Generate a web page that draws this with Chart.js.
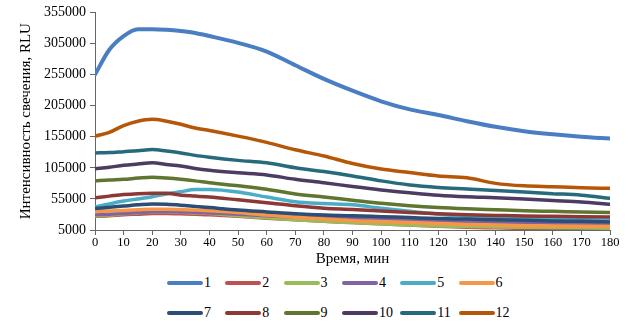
<!DOCTYPE html>
<html>
<head>
<meta charset="utf-8">
<script src="https://cdn.jsdelivr.net/npm/chart.js@4"></script>
<style>
  html, body { margin: 0; padding: 0; background: #fff; }
  #wrap { position: relative; width: 626px; height: 324px; }
  #chartBox { position: absolute; left: 0; top: 0; width: 626px; height: 268px; }
  #legend { position: absolute; left: 0; top: 268px; width: 626px; height: 56px; }
  .item { position: absolute; display: flex; align-items: center; height: 20px;
          font: 14px "Liberation Serif", "Times New Roman", serif; color: #000; }
  .swatch { width: 36px; height: 4px; border-radius: 2px; margin-right: 1px; }
</style>
</head>
<body>
<div id="wrap">
  <div id="chartBox"><canvas id="lumChart"></canvas></div>
  <div id="legend"></div>
</div>
<script>
// Время, мин
const TIMES = [0, 5, 10, 15, 20, 25, 30, 35, 40, 50, 60, 70, 80, 90, 100, 110, 120, 130, 140, 150, 160, 170, 180];

// Интенсивность свечения, RLU
const S1  = [255000, 295000, 317000, 328000, 328000, 327000, 325000, 322000, 317000, 306000, 292000, 270000, 248000, 229000, 212000, 199000, 190000, 180000, 171000, 164000, 159000, 155000, 152000];
const S2  = [27000, 28000, 29500, 30500, 31500, 31500, 31000, 30500, 29500, 27000, 24000, 21500, 19000, 17000, 15000, 13000, 11000, 9500, 8500, 7500, 7000, 6500, 6000];
const S3  = [27500, 29000, 31000, 32500, 34000, 34000, 33500, 32500, 31500, 28000, 24500, 21500, 19000, 17000, 15000, 13000, 11500, 10500, 10000, 9500, 9000, 8500, 8000];
const S4  = [29500, 30500, 32000, 33000, 34500, 34500, 34000, 33500, 32500, 30500, 28000, 26000, 25000, 24000, 22000, 20500, 19000, 18000, 17000, 16000, 15000, 14000, 13000];
const S5  = [42000, 47000, 51500, 55000, 58500, 63000, 66500, 70000, 70000, 66000, 58000, 50500, 47500, 45500, 40000, 35000, 30500, 27000, 25000, 23500, 22500, 21500, 20500];
const S6  = [34500, 35500, 36500, 37500, 38500, 38500, 38000, 37000, 36000, 33000, 29000, 25500, 22500, 20000, 18500, 17000, 15500, 14000, 13000, 12000, 11500, 11000, 10500];
const S7  = [39500, 41500, 43500, 45500, 47000, 46500, 45000, 43000, 41000, 37000, 34000, 31000, 29000, 28000, 26500, 25000, 23500, 22500, 21500, 20500, 19500, 19000, 18000];
const S8  = [57000, 59500, 62000, 63500, 64000, 64000, 61000, 59500, 58000, 53500, 49000, 44000, 40000, 38000, 35500, 33000, 31000, 29500, 28500, 27500, 27000, 26500, 26000];
const S9  = [84000, 85500, 86500, 88500, 90000, 88500, 86500, 84000, 81000, 76000, 70500, 63000, 58000, 53000, 48000, 44000, 41000, 39000, 37500, 36000, 35000, 34000, 33000];
const S10 = [103500, 106000, 109000, 111000, 113000, 110500, 108000, 104000, 101000, 97000, 93500, 86500, 81000, 75000, 69500, 65000, 61000, 58500, 57000, 55000, 52500, 50000, 46500];
const S11 = [129000, 129500, 131000, 132500, 134500, 132000, 129000, 125000, 122000, 117000, 113000, 105000, 99000, 92000, 84000, 77500, 73500, 71000, 68500, 66000, 63500, 61000, 56000];
const S12 = [156000, 162000, 173000, 180000, 183000, 180000, 175000, 169000, 165000, 156000, 146000, 134000, 124000, 112000, 103000, 97500, 92000, 89000, 80000, 76000, 74500, 73000, 72000];

const SERIES = [S1, S2, S3, S4, S5, S6, S7, S8, S9, S10, S11, S12];
const NAMES = ['1', '2', '3', '4', '5', '6', '7', '8', '9', '10', '11', '12'];
const COLORS = ['#4A7EC2', '#C0504D', '#9BBB59', '#8064A2', '#4BACC6', '#F79646',
                '#2C4D75', '#8C3836', '#5F7530', '#4D3B62', '#276A7C', '#B65708'];

const SERIF = '"Liberation Serif", "Times New Roman", serif';

const datasets = SERIES.map((vals, i) => ({
    label: NAMES[i],
    data: vals.map((v, k) => ({ x: TIMES[k], y: v })),
    borderColor: COLORS[i],
    backgroundColor: COLORS[i],
    borderWidth: i === 0 ? 4 : 3.5,
    pointRadius: 0,
    cubicInterpolationMode: 'monotone',
    borderCapStyle: 'round',
    fill: false,
    order: 12 - i, // les dernières séries au-dessus
}));

new Chart(document.getElementById('lumChart'), {
    type: 'line',
    data: { datasets: datasets },
    options: {
        responsive: true,
        maintainAspectRatio: false,
        animation: false,
        layout: { padding: { top: 11, right: 16, left: 0, bottom: 0 } },
        plugins: {
            legend: { display: false },
            tooltip: { enabled: false },
        },
        scales: {
            x: {
                type: 'linear',
                min: 0,
                max: 180,
                border: { color: '#666', width: 1 },
                grid: { drawOnChartArea: false, tickLength: 5, color: '#666' },
                ticks: { stepSize: 10, padding: 0, color: '#000', font: { family: SERIF, size: 12.5 }, maxRotation: 0 },
                title: { display: true, text: 'Время, мин', color: '#000',
                         font: { family: SERIF, size: 15 }, padding: { top: 2, bottom: 0 } },
                afterFit: (s) => { s.height = 38; },
            },
            y: {
                min: 5000,
                max: 355000,
                border: { color: '#666', width: 1 },
                grid: { drawOnChartArea: false, tickLength: 5, color: '#666' },
                ticks: { stepSize: 50000, padding: 4, color: '#000', font: { family: SERIF, size: 14 },
                         callback: (v) => String(v) },
                title: { display: true, text: 'Интенсивность свечения, RLU', color: '#000',
                         font: { family: SERIF, size: 15 }, padding: { top: 17, bottom: 0 } },
                afterFit: (s) => { s.width = 95; },
            },
        },
    },
});

// Légende : deux rangées de six éléments
const legend = document.getElementById('legend');
NAMES.forEach((name, i) => {
    const item = document.createElement('div');
    item.className = 'item';
    item.style.left = (167 + (i % 6) * 58.3) + 'px';
    item.style.top = (5 + Math.floor(i / 6) * 30) + 'px';
    item.innerHTML = `<span class="swatch" style="background:${COLORS[i]}"></span>${name}`;
    legend.appendChild(item);
});
</script>
</body>
</html>
